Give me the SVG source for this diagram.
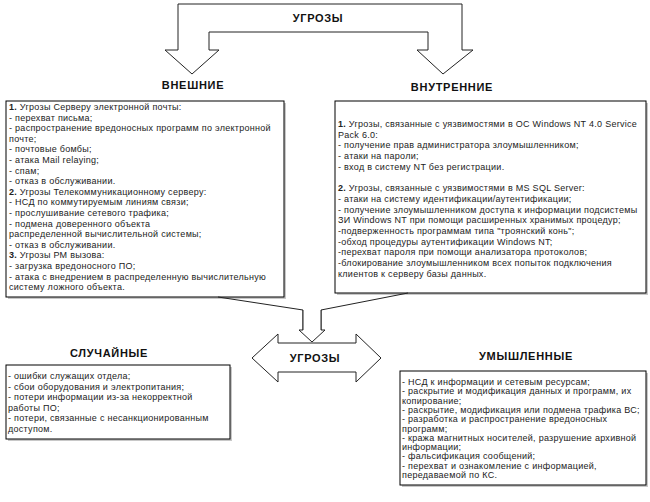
<svg xmlns="http://www.w3.org/2000/svg" width="650" height="502" viewBox="0 0 650 502">
<style>
.bg{fill:#fff}
.box{fill:#fff;stroke:#000;stroke-width:1}
.shadow{fill:#c8c8c8}
.arrow{fill:#fff;stroke:#222;stroke-width:1;stroke-linejoin:miter}
.line{fill:none;stroke:#222;stroke-width:1}
.h{font-family:"Liberation Sans",Arial,sans-serif;font-weight:bold;font-size:11px;letter-spacing:0.7px;fill:#111;text-anchor:middle}
.t{font-family:"Liberation Sans",Arial,sans-serif;font-size:9px;letter-spacing:0.28px;fill:#222}
.b{font-weight:bold}
</style>
<rect class="bg" x="0" y="0" width="650" height="502"/>

<g id="top-arrow">
<path class="arrow" d="M165,50 L178,50 L178,4 L462,4 L462,50 L473,50 L443,74 L417,50 L428,50 L428,32 L209,32 L209,50 L219,50 L192,74 Z"/>
<text class="h" x="318" y="22">УГРОЗЫ</text>
</g>

<g id="label-external"><text class="h" x="193" y="89">ВНЕШНИЕ</text></g>
<g id="label-internal"><text class="h" x="452" y="91">ВНУТРЕННИЕ</text></g>

<g id="box-external">
<rect class="shadow" x="8" y="103" width="278" height="196"/>
<rect class="box" x="6" y="101" width="278" height="196"/>
<text class="t">
<tspan x="9" y="110"><tspan class="b">1.</tspan> Угрозы Серверу электронной почты:</tspan>
<tspan x="9" y="120.6">- перехват письма;</tspan>
<tspan x="9" y="131.2">- распространение вредоносных программ по электронной</tspan>
<tspan x="9" y="141.8">почте;</tspan>
<tspan x="9" y="152.4">- почтовые бомбы;</tspan>
<tspan x="9" y="163">- атака Mail relaying;</tspan>
<tspan x="9" y="173.6">- спам;</tspan>
<tspan x="9" y="184.2">- отказ в обслуживании.</tspan>
<tspan x="9" y="194.8"><tspan class="b">2.</tspan> Угрозы Телекоммуникационному серверу:</tspan>
<tspan x="9" y="205.4">- НСД по коммутируемым линиям связи;</tspan>
<tspan x="9" y="216">- прослушивание сетевого трафика;</tspan>
<tspan x="9" y="226.6">-  подмена доверенного объекта</tspan>
<tspan x="9" y="237.2">распределенной вычислительной системы;</tspan>
<tspan x="9" y="247.8">- отказ в обслуживании.</tspan>
<tspan x="9" y="258.4"><tspan class="b">3.</tspan> Угрозы РМ вызова:</tspan>
<tspan x="9" y="269">- загрузка вредоносного ПО;</tspan>
<tspan x="9" y="279.6">- атака с внедрением в распределенную вычислительную</tspan>
<tspan x="9" y="290.2">систему ложного объекта.</tspan>
</text>
</g>

<g id="box-internal">
<rect class="shadow" x="337" y="103" width="311" height="192"/>
<rect class="box" x="335" y="101" width="311" height="192"/>
<text class="t">
<tspan x="338" y="127"><tspan class="b">1.</tspan> Угрозы, связанные с уязвимостями в ОС Windows NT 4.0 Service</tspan>
<tspan x="338" y="137.7">Pack 6.0:</tspan>
<tspan x="338" y="148.4">- получение прав администратора злоумышленником;</tspan>
<tspan x="338" y="159.1">- атаки на пароли;</tspan>
<tspan x="338" y="169.8">- вход в систему NT без регистрации.</tspan>
<tspan x="338" y="191.2"><tspan class="b">2.</tspan> Угрозы, связанные с уязвимостями в MS SQL Server:</tspan>
<tspan x="338" y="201.9">- атаки на систему идентификации/аутентификации;</tspan>
<tspan x="338" y="212.6">- получение злоумышленником доступа к информации подсистемы</tspan>
<tspan x="338" y="223.3">ЗИ Windows NT при помощи расширенных хранимых процедур;</tspan>
<tspan x="338" y="234">-подверженность программам типа "троянский конь";</tspan>
<tspan x="338" y="244.7">-обход процедуры аутентификации Windows NT;</tspan>
<tspan x="338" y="255.4">-перехват пароля при помощи анализатора протоколов;</tspan>
<tspan x="338" y="266.1">-блокирование злоумышленником  всех попыток подключения</tspan>
<tspan x="338" y="276.8">клиентов к серверу базы данных.</tspan>
</text>
</g>

<g id="connectors">
<path class="line" d="M218,297 L303,310 L303,330"/>
<path class="line" d="M408,293 L321,310 L321,330"/>
</g>

<g id="down-arrow">
<path class="arrow" d="M303,310 L303,330 L299,330 L312,342 L325,330 L321,330 L321,310"/>
</g>

<g id="center-arrow">
<path class="arrow" d="M252,358 L278,334 L278,343 L356,343 L356,334 L381,358 L356,382 L356,372 L278,372 L278,382 Z"/>
<text class="h" x="315" y="362">УГРОЗЫ</text>
</g>

<g id="label-accidental"><text class="h" x="109" y="357">СЛУЧАЙНЫЕ</text></g>
<g id="label-intentional"><text class="h" x="526" y="360">УМЫШЛЕННЫЕ</text></g>

<g id="box-accidental">
<rect class="shadow" x="8" y="367" width="224" height="74"/>
<rect class="box" x="6" y="365" width="224" height="74"/>
<text class="t">
<tspan x="8" y="379">- ошибки служащих отдела;</tspan>
<tspan x="8" y="389.6">- сбои оборудования и электропитания;</tspan>
<tspan x="8" y="400.2">- потери информации из-за некорректной</tspan>
<tspan x="8" y="410.8">работы  ПО;</tspan>
<tspan x="8" y="421.4">- потери, связанные с несанкционированным</tspan>
<tspan x="8" y="432">доступом.</tspan>
</text>
</g>

<g id="box-intentional">
<rect class="shadow" x="402" y="373" width="246" height="114"/>
<rect class="box" x="400" y="371" width="246" height="114"/>
<text class="t">
<tspan x="402" y="385">- НСД к информации и сетевым ресурсам;</tspan>
<tspan x="402" y="394.3">- раскрытие и модификация данных и программ, их</tspan>
<tspan x="402" y="403.6">копирование;</tspan>
<tspan x="402" y="412.9">- раскрытие, модификация или подмена трафика ВС;</tspan>
<tspan x="402" y="422.2">- разработка и распространение вредоносных</tspan>
<tspan x="402" y="431.5">программ;</tspan>
<tspan x="402" y="440.8">- кража магнитных носителей, разрушение архивной</tspan>
<tspan x="402" y="450.1">информации;</tspan>
<tspan x="402" y="459.4">- фальсификация сообщений;</tspan>
<tspan x="402" y="468.7">- перехват и ознакомление с информацией,</tspan>
<tspan x="402" y="478">передаваемой по КС.</tspan>
</text>
</g>
</svg>
